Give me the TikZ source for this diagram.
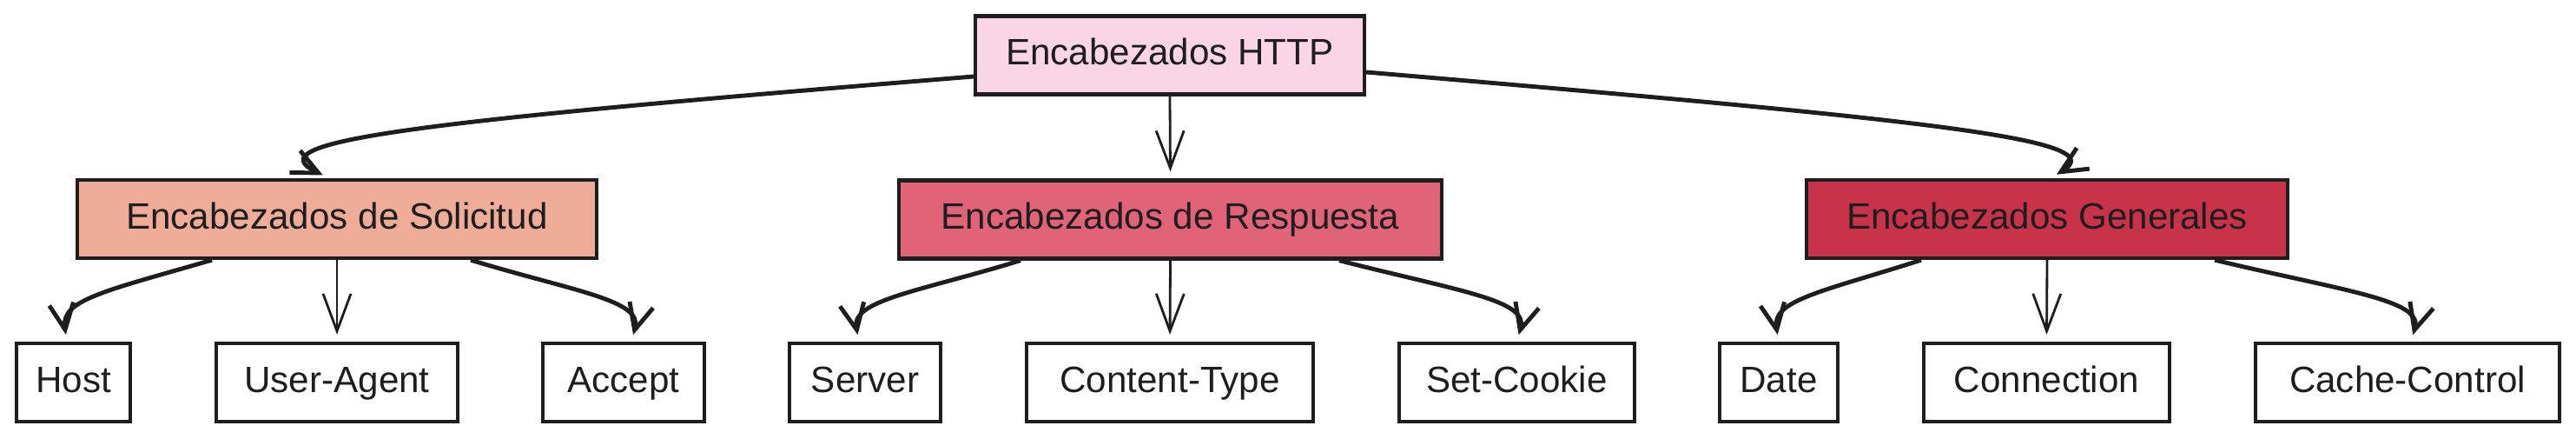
\documentclass[tikz,border=0pt]{standalone}
\usepackage{fontspec}
\setmainfont{Liberation Sans}
\usetikzlibrary{arrows.meta}
\definecolor{ink}{HTML}{1E1E1E}
\definecolor{rosa}{HTML}{F9D5E5}
\definecolor{salmon}{HTML}{EEAC99}
\definecolor{coral}{HTML}{E06377}
\definecolor{grana}{HTML}{C83349}
\begin{document}
\begin{tikzpicture}[>={Straight Barb[length=3mm,width=2.8mm]},
                    box/.style={draw=ink,line width=1.2pt,text=ink,minimum height=0.9cm,
                                inner sep=0pt,text height=9pt,text depth=2.6pt,
                                font=\fontsize{12}{14}\selectfont},
                    flow/.style={-{Straight Barb[length=4.3mm,width=3.2mm]},ink,line width=0.8pt,shorten >=0.8mm},
                    curva/.style={->,ink,line width=1.4pt,shorten >=0.8mm}]
    \useasboundingbox (0,0) rectangle (29.66,-5.04);
    % top and middle row
    \node[box,fill=rosa,minimum width=4.48cm] (http) at (13.47,-0.635) {Encabezados HTTP};
    \node[box,fill=salmon,minimum width=5.98cm] (sol) at (3.88,-2.52) {Encabezados de Solicitud};
    \node[box,fill=coral,minimum width=6.25cm] (resp) at (13.475,-2.525) {Encabezados de Respuesta};
    \node[box,fill=grana,minimum width=5.54cm] (gen) at (23.57,-2.52) {Encabezados Generales};
    % leaves
    \node[box,fill=white,minimum width=1.31cm] (host) at (0.845,-4.40) {Host};
    \node[box,fill=white,minimum width=2.78cm] (ua) at (3.88,-4.40) {User-Agent};
    \node[box,fill=white,minimum width=1.86cm] (acc) at (7.18,-4.40) {Accept};
    \node[box,fill=white,minimum width=1.74cm] (srv) at (9.96,-4.40) {Server};
    \node[box,fill=white,minimum width=3.30cm] (ct) at (13.47,-4.40) {Content-Type};
    \node[box,fill=white,minimum width=2.71cm] (sc) at (17.465,-4.40) {Set-Cookie};
    \node[box,fill=white,minimum width=1.36cm] (date) at (20.48,-4.40) {Date};
    \node[box,fill=white,minimum width=2.83cm] (conn) at (23.565,-4.40) {Connection};
    \node[box,fill=white,minimum width=3.50cm] (cc) at (27.72,-4.40) {Cache-Control};
    % connectors
    \draw[curva] ([yshift=-2.45mm]http.west) .. controls (4.8,-1.40) and (2.9,-1.62) .. ([xshift=-0.9mm]sol.north);
    \draw[flow] (http.south) -- (resp.north);
    \draw[curva] ([yshift=-1.95mm]http.east) .. controls (22.2,-1.38) and (24.35,-1.60) .. ([xshift=0.4mm]gen.north);
    \draw[curva] ([xshift=-14.4mm]sol.south) .. controls (1.2,-3.35) and (0.7,-3.45) .. ([xshift=-0.75mm]host.north);
    \draw[flow] (sol.south) -- (ua.north);
    \draw[curva] ([xshift=15.4mm]sol.south) .. controls (6.6,-3.35) and (7.4,-3.45) .. ([xshift=0.9mm]acc.north);
    \draw[curva] ([xshift=-17.25mm]resp.south) .. controls (10.6,-3.35) and (9.8,-3.45) .. ([xshift=-0.7mm]srv.north);
    \draw[flow] (resp.south) -- (ct.north);
    \draw[curva] ([xshift=19.45mm]resp.south) .. controls (16.8,-3.35) and (17.6,-3.45) .. (sc.north);
    \draw[curva] ([xshift=-14.5mm]gen.south) .. controls (21.0,-3.35) and (20.4,-3.45) .. (date.north);
    \draw[flow] (gen.south) -- (conn.north);
    \draw[curva] ([xshift=19.3mm]gen.south) .. controls (27.0,-3.35) and (27.9,-3.45) .. ([xshift=0.4mm]cc.north);
\end{tikzpicture}
\end{document}
